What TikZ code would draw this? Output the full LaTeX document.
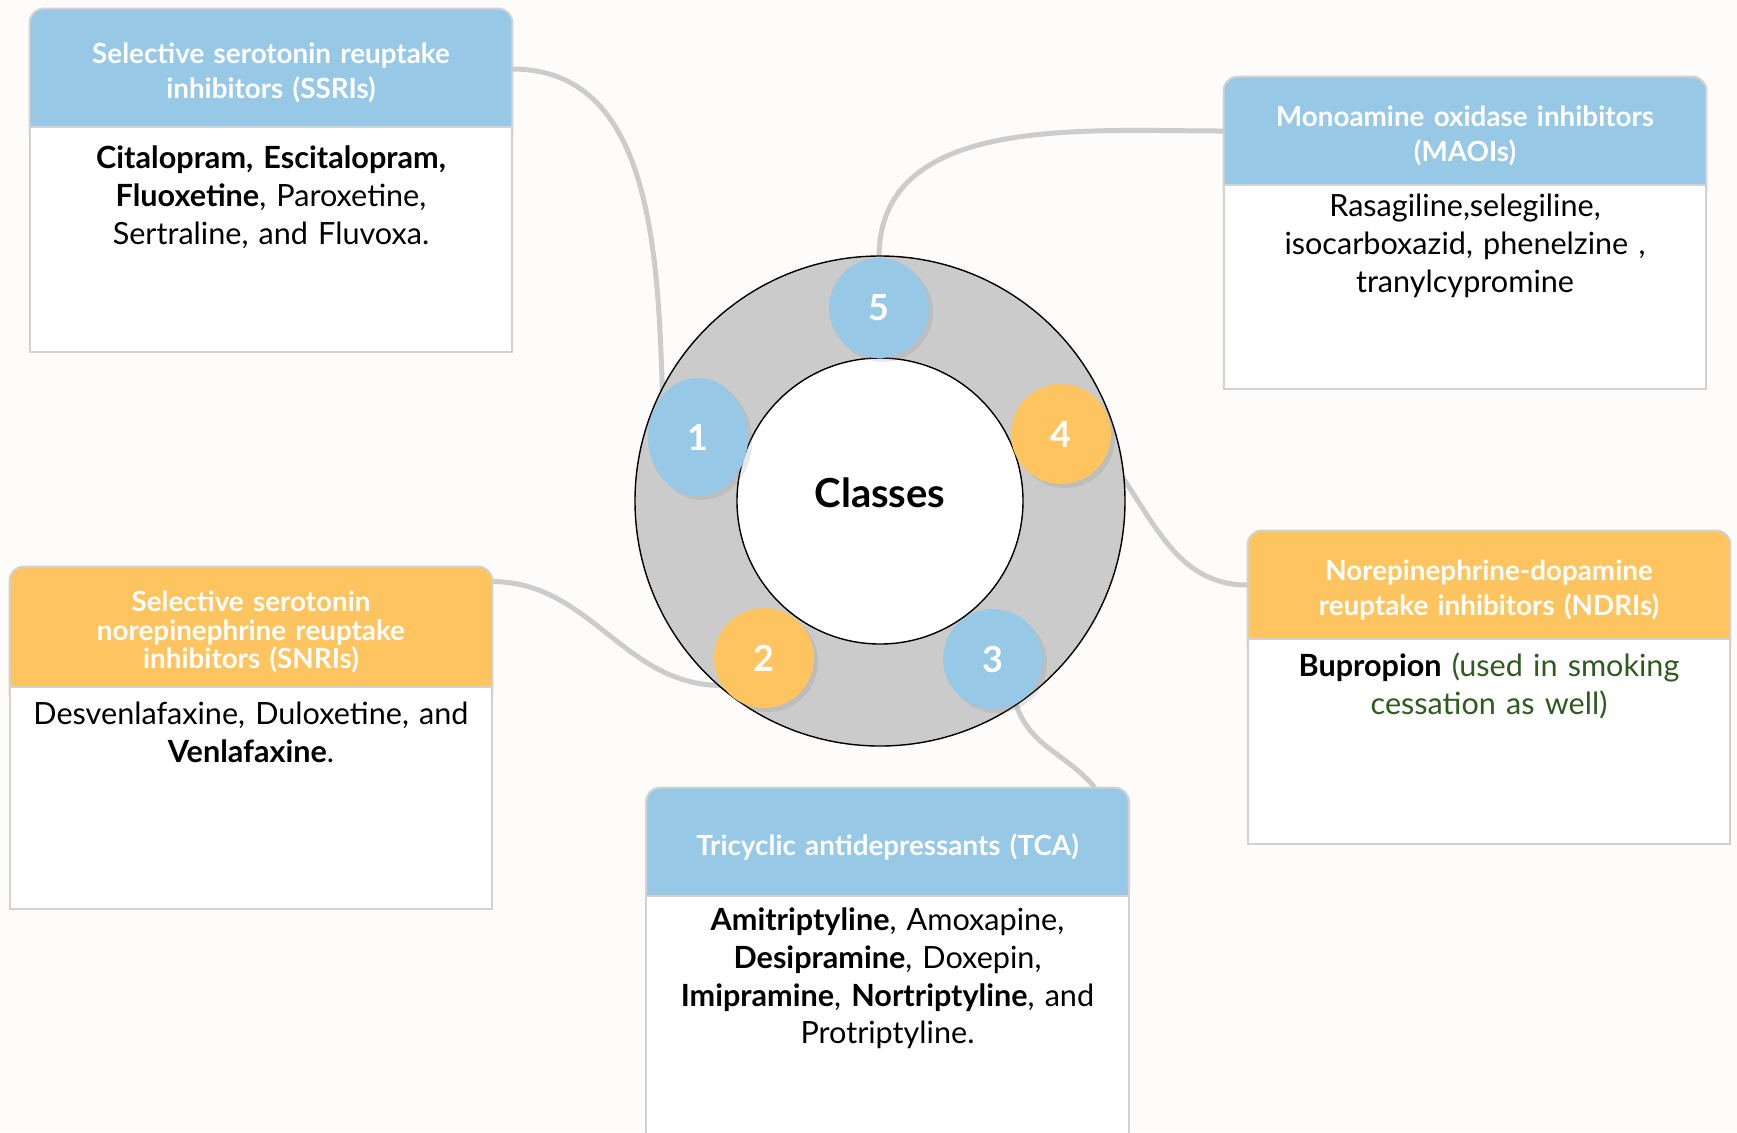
\documentclass[tikz,border=0pt]{standalone}
\usepackage{fontspec}
\setmainfont{Lato}
\usetikzlibrary{positioning,shapes.geometric,shadows,backgrounds}

\definecolor{sky}{HTML}{97C8E6}
\definecolor{sun}{HTML}{FEC45F}
\definecolor{ringgray}{HTML}{CBCBCB}
\definecolor{wire}{HTML}{CCCCCC}
\definecolor{edge}{HTML}{D2D2D2}
\definecolor{paper}{HTML}{FDFCFA}
\definecolor{leaf}{HTML}{2E5B1E}

\tikzset{
    hdr/.style ={rectangle, minimum width=241pt, text width=232pt, align=center, inner sep=0pt,
        text=white, font=\fontsize{13.9}{17.7}\selectfont\bfseries},
    txt/.style ={rectangle, text width=236pt, align=center, inner sep=0pt,
        font=\fontsize{15.3}{18.9}\selectfont},
    dot/.style ={circle, minimum size=50pt, inner sep=0pt, text=white,
        font=\fontsize{18}{20}\selectfont\bfseries,
        drop shadow={opacity=0.18, shadow xshift=2pt, shadow yshift=-2pt}},
    frame/.style={draw=edge, line width=1pt},
    link/.style={draw=wire, line width=2.5pt}}

\begin{document}
\begin{tikzpicture}[x=0.5pt, y=-0.5pt]
    \useasboundingbox (0,0) rectangle (1737,1132);
    % headers
    \node[hdr, minimum height=59pt] (ssri) at (271,73) {Selective serotonin reuptake\\inhibitors (SSRIs)};
    \node[hdr, minimum height=54pt] (maoi) at (1465,136) {Monoamine oxidase inhibitors\\(MAOIs)};
    \node[hdr, minimum height=60pt, font=\fontsize{13.9}{14.4}\selectfont\bfseries] (snri) at (251,632)
        {Selective serotonin\\norepinephrine reuptake\\inhibitors (SNRIs)};
    \node[hdr, minimum height=54pt] (ndri) at (1489,590) {Norepinephrine-dopamine\\reuptake inhibitors (NDRIs)};
    \node[hdr, minimum height=54pt] (tca) at (887.5,847) {Tricyclic antidepressants (TCA)};
    % drug lists
    \node[txt, below=6.6pt of ssri] (ssrit) {\textbf{Citalopram, Escitalopram,}\\\textbf{Fluoxetine}, Paroxetine,\\Sertraline, and Fluvoxa.};
    \node[txt, below=1.6pt of maoi] (maoit) {Rasagiline,selegiline,\\isocarboxazid, phenelzine ,\\tranylcypromine};
    \node[txt, below=4.6pt of snri] (snrit) {Desvenlafaxine, Duloxetine, and\\\textbf{Venlafaxine}.};
    \node[txt, below=4pt of ndri] (ndrit) {\textbf{Bupropion} \textcolor{leaf}{(used in smoking}\\\textcolor{leaf}{cessation as well)}};
    \node[txt, below=3pt of tca] (tcat) {\textbf{Amitriptyline}, Amoxapine,\\\textbf{Desipramine}, Doxepin,\\\textbf{Imipramine}, \textbf{Nortriptyline}, and\\Protriptyline.};
    % boxes
    \begin{scope}[on background layer]
        \fill[paper] (0,0) rectangle (1737,1132);
        \foreach \n/\c/\b in {ssri/sky/352, maoi/sky/389, snri/sun/909, ndri/sun/844, tca/sky/1200}{
            \filldraw[frame, fill=\c, rounded corners=7pt] ([yshift=2.5pt]\n.north west) rectangle ([yshift=-7.5pt]\n.south east);
            \filldraw[frame, fill=white] ([yshift=2.5pt]\n.south west) rectangle (\n.south east |- 0,\b);
        }
    \end{scope}
    % ring
    \node[circle, minimum size=245pt, fill=ringgray, draw=black, line width=0.7pt] (ring) at (880,501) {};
    \node[circle, minimum size=143pt, fill=white, draw=black, line width=0.7pt] (hole) at (ring.center) {};
    \node[font=\fontsize{20}{24}\selectfont\bfseries] (classes) at (880,493) {Classes};
    \node[dot, fill=sky] (c5) at (879,308) {5};
    \node[dot, ellipse, minimum width=50pt, minimum height=59pt, fill=sky] (c1) at (698,437) {1};
    \node[dot, fill=sun] (c4) at (1061,434) {4};
    \node[dot, fill=sun] (c2) at (764,658) {2};
    \node[dot, fill=sky] (c3) at (993,659) {3};
    % connectors
    \begin{scope}[on background layer]
        \draw[link] ([yshift=2pt]ssri.east) to[out=0, in=92] (c1.130);
        \draw[link] ([yshift=2.5pt]maoi.west) to[out=180, in=90] (c5.north);
        \draw[link] ([yshift=2.5pt]ndri.west) to[out=180, in=-52] (c4.-25);
        \draw[link] ([yshift=-5pt]snri.north east) to[out=0, in=180] (c2.213);
        \draw[link] ([xshift=-17pt, yshift=2.5pt]tca.north east) to[out=130, in=-72] (c3.-63);
    \end{scope}
\end{tikzpicture}
\end{document}
